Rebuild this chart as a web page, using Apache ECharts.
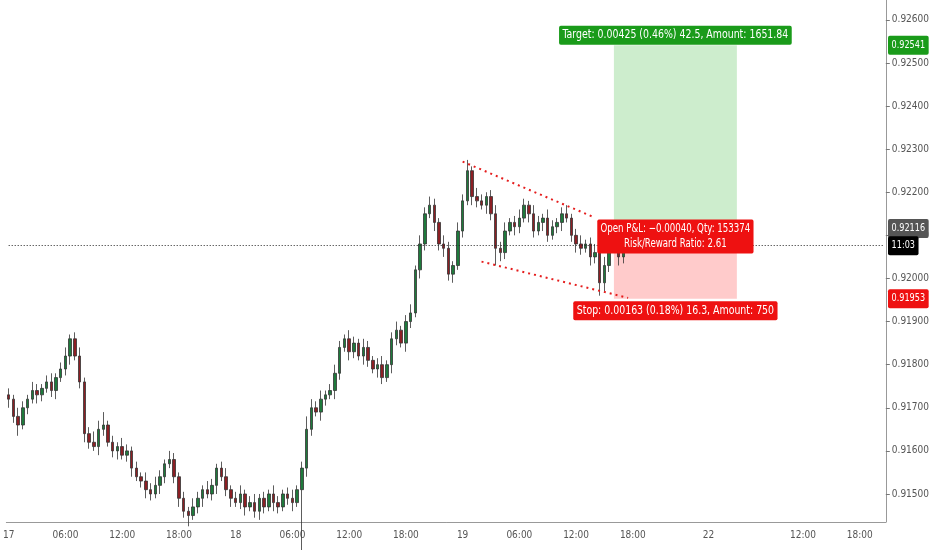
<!DOCTYPE html>
<html><head><meta charset="utf-8">
<script src="https://cdn.jsdelivr.net/npm/echarts@6/dist/echarts.min.js"></script>
<style>html,body{margin:0;padding:0;background:#fff}#c{width:932px;height:550px}</style>
</head><body><div id="c"></div>
<script>
// prices in 1e-5 units
const closes=[91720,91680,91660,91700,91720,91740,91730,91745,91760,91740,91770,91790,91820,91860,91820,91760,91640,91620,91610,91650,91660,91620,91600,91610,91590,91600,91560,91540,91530,91510,91500,91520,91540,91570,91580,91540,91490,91460,91450,91470,91490,91510,91500,91520,91560,91540,91510,91490,91480,91500,91470,91480,91460,91490,91470,91500,91480,91470,91500,91490,91480,91510,91560,91650,91700,91690,91720,91730,91740,91780,91840,91860,91830,91850,91820,91840,91810,91790,91800,91770,91800,91860,91880,91850,91900,91920,92020,92080,92150,92170,92130,92080,92070,92010,92030,92110,92180,92250,92190,92180,92170,92190,92150,92070,92060,92110,92130,92120,92140,92170,92150,92110,92130,92140,92100,92120,92130,92150,92140,92100,92080,92070,92080,92050,92060,91990,92030,92080,92110,92050,92080];
const opens=[91730,91720,91680,91660,91700,91720,91740,91730,91745,91760,91740,91770,91790,91820,91860,91820,91760,91640,91620,91610,91650,91660,91620,91600,91610,91590,91600,91560,91540,91530,91510,91500,91520,91540,91570,91580,91540,91490,91460,91450,91470,91490,91510,91500,91520,91560,91540,91510,91490,91480,91500,91470,91480,91460,91490,91470,91500,91480,91470,91500,91490,91480,91510,91560,91650,91700,91690,91720,91730,91740,91780,91840,91860,91830,91850,91820,91840,91810,91790,91800,91770,91800,91860,91880,91850,91900,91920,92020,92080,92150,92170,92130,92080,92070,92010,92030,92110,92180,92250,92190,92180,92170,92190,92150,92070,92060,92110,92130,92120,92140,92170,92150,92110,92130,92140,92100,92120,92130,92150,92140,92100,92080,92070,92080,92050,92060,91990,92030,92080,92110,92050];
const upWick=[15,10,20,15,10,20,15,10,15,20,10,15,20,10,15,20,10,15,25,20,30,10,15,10,20,15,10,15,10,20,15,20,15,10,20,15,10,15,10,20,15,10,20,15,10,15,20,10,15,20,10,15,20,10,15,10,20,15,10,15,20,10,15,30,20,15,20,10,15,20,15,10,20,15,10,20,15,10,15,20,10,15,20,10,15,20,10,20,15,20,15,10,20,15,10,20,15,25,10,20,15,10,15,20,15,20,10,15,20,15,10,20,15,10,20,15,10,15,20,10,15,20,10,15,20,10,20,25,15,20,10];
const downWick=[20,15,25,10,15,10,20,15,10,15,20,10,15,20,10,15,20,15,10,20,15,10,15,20,10,15,20,10,15,20,15,10,20,15,10,15,20,15,25,10,15,20,10,15,20,10,15,20,10,15,20,10,15,20,15,10,20,15,10,15,20,10,160,20,15,10,20,15,10,20,15,10,20,15,10,20,15,10,20,15,10,20,15,10,20,15,10,20,15,10,20,15,20,15,20,10,15,10,20,15,10,20,15,40,20,15,10,20,15,10,20,15,10,20,15,10,15,20,10,15,20,15,10,20,15,30,20,15,10,20,15];
const xTickLabels={0:'17',12:'06:00',24:'12:00',36:'18:00',48:'18',60:'06:00',72:'12:00',84:'18:00',96:'19',108:'06:00',120:'12:00',132:'18:00',148:'22',168:'12:00',180:'18:00'};
const yTicks=[0.915,0.916,0.917,0.918,0.919,0.920,0.921,0.922,0.923,0.924,0.925,0.926];
const yMin=0.91435, yMax=0.92646;
const entry=0.92116, target=0.92541, stop=0.91953, lastPrice=0.92076;
const posStart=128, posEnd=154;
const upperTrend=[[96,0.92271],[124,0.92141]];
const lowerTrend=[[100,0.92039],[131,0.91955]];

const N=186;
const cats=Array.from({length:N},(_,i)=>String(i));
const candles=closes.map((c,i)=>{
  const o=opens[i]!==undefined?opens[i]:closes[i-1];
  const hi=Math.max(o,c)+(upWick[i]||10), lo=Math.min(o,c)-(downWick[i]||10);
  return [o/1e5,c/1e5,lo/1e5,hi/1e5];
});
const font="'DejaVu Sans Condensed','Liberation Sans Narrow','Liberation Sans',sans-serif";
const chart=echarts.init(document.getElementById('c'));
chart.setOption({
  animation:false,
  grid:{left:0,right:45,top:0,bottom:28},
  xAxis:{type:'category',data:cats,boundaryGap:true,
    axisLine:{lineStyle:{color:'#999'}},
    axisTick:{interval:(i)=>xTickLabels[i]!==undefined,length:4,lineStyle:{color:'#777'}},
    axisLabel:{interval:(i)=>xTickLabels[i]!==undefined,formatter:(v)=>xTickLabels[v]||'',color:'#555',fontSize:10,fontFamily:font,margin:8},
    splitLine:{show:false}},
  yAxis:{type:'value',position:'right',min:yMin,max:yMax,
    axisLine:{show:true,lineStyle:{color:'#999'}},
    axisTick:{show:true,length:4,customValues:yTicks,lineStyle:{color:'#777'}},
    axisLabel:{color:'#555',fontSize:10,fontFamily:font,customValues:yTicks,formatter:(v)=>v.toFixed(5),margin:6},
    splitLine:{show:false}},
  series:[{type:'candlestick',data:candles,barWidth:3,
    itemStyle:{color:'#1e7a3c',color0:'#8c1f24',borderColor:'#333',borderColor0:'#333',borderWidth:0.8},
    markArea:{silent:true,data:[
      [{xAxis:posStart,yAxis:entry,itemStyle:{color:'rgba(120,205,120,0.37)'}},{xAxis:posEnd,yAxis:target}],
      [{xAxis:posStart,yAxis:stop,itemStyle:{color:'rgba(255,130,130,0.42)'}},{xAxis:posEnd,yAxis:entry}]
    ]},
    markLine:{silent:true,symbol:'none',label:{show:false},data:[
      [{coord:upperTrend[0],lineStyle:{color:'#e51d1d',type:[2,4],width:2}},{coord:upperTrend[1]}],
      [{coord:lowerTrend[0],lineStyle:{color:'#e51d1d',type:[2,4],width:2}},{coord:lowerTrend[1]}],
      [{coord:[0,lastPrice],lineStyle:{color:'#222',type:[1,2],width:1}},{coord:[N-1,lastPrice]}]
    ]}
  }]
});
function yPx(v){return chart.convertToPixel({yAxisIndex:0},v);}
function xPx(i){return chart.convertToPixel({xAxisIndex:0},i);}
const cx=(xPx(posStart)+xPx(posEnd))/2;
function lbl(x,y,text,bg,fs,align,sx,vpad){
  return {type:'text',x:x,y:y,z:100,zlevel:1,scaleX:sx,style:{text:text,fill:'#fff',font:fs+'px '+font,align:align,verticalAlign:'middle',
    backgroundColor:bg,padding:[vpad,4,vpad,4],borderRadius:2,lineHeight:fs+3}};
}
const ax=888;
chart.setOption({graphic:[
  lbl(cx,yPx(target)-10,'Target: 0.00425 (0.46%) 42.5, Amount: 1651.84','#1a9b1a',12,'center',0.87,2),
  lbl(cx,yPx(entry)+8,'Open P&L: \u22120.00040, Qty: 153374\nRisk/Reward Ratio: 2.61','#ee1111',12,'center',0.8,2),
  lbl(cx,yPx(stop)+12,'Stop: 0.00163 (0.18%) 16.3, Amount: 750','#ee1111',12,'center',0.87,2),
  lbl(ax,yPx(target),'0.92541','#1a9b1a',10,'left',0.9,3),
  lbl(ax,yPx(entry),'0.92116','#555',10,'left',0.9,3),
  lbl(ax,yPx(lastPrice),'11:03','#000',10,'left',0.9,3),
  lbl(ax,yPx(stop),'0.91953','#ee1111',10,'left',0.9,3)
]});
</script></body></html>
